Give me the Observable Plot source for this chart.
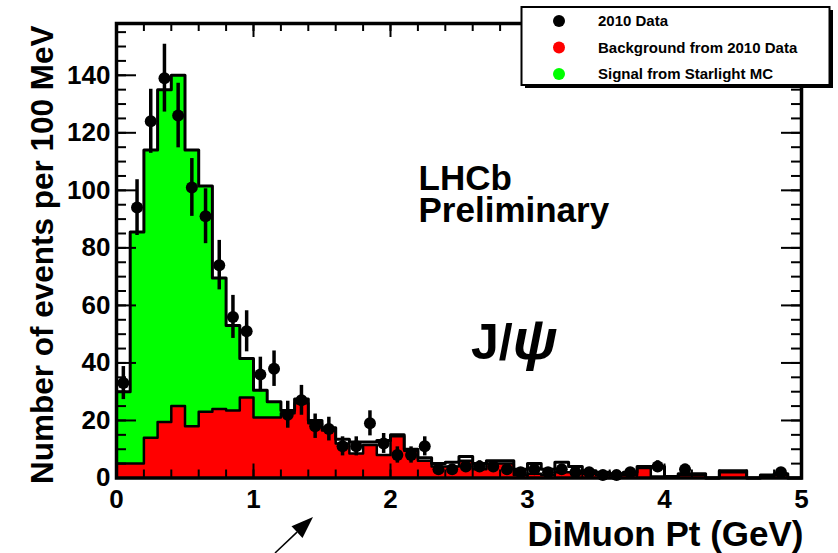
<!DOCTYPE html>
<html>
<head>
<meta charset="utf-8">
<script src="https://cdn.jsdelivr.net/npm/d3@7"></script>
<script src="https://cdn.jsdelivr.net/npm/@observablehq/plot@0.6"></script>
<style>
  body { margin: 0; background: #fff; }
  svg { display: block; }
</style>
</head>
<body>
<div id="chart"></div>
<script>
// Dimuon transverse momentum, 100 MeV bins from 0 to 5 GeV
const binLow = [0.0, 0.1, 0.2, 0.3, 0.4, 0.5, 0.6, 0.7, 0.8, 0.9,
                1.0, 1.1, 1.2, 1.3, 1.4, 1.5, 1.6, 1.7, 1.8, 1.9,
                2.0, 2.1, 2.2, 2.3, 2.4, 2.5, 2.6, 2.7, 2.8, 2.9,
                3.0, 3.1, 3.2, 3.3, 3.4, 3.5, 3.6, 3.7, 3.8, 3.9,
                4.0, 4.1, 4.2, 4.3, 4.4, 4.5, 4.6, 4.7, 4.8, 4.9];
const binWidth = 0.1;

// Background estimated from 2010 data (red)
const background = [5, 5, 14, 19.5, 25, 18, 23, 24, 23.5, 28,
                    21, 21, 22.5, 26, 19, 16.5, 12, 8.5, 11.5, 8,
                    14.5, 9.5, 6, 4, 4, 6, 3, 5, 5, 1,
                    1.5, 1, 2, 2, 1.5, 1, 1, 1, 3.5, 0.5,
                    0.5, 1, 1, 0, 2, 2, 0, 0.5, 1, 0];

// Starlight MC signal, stacked on the background (green)
const signal = [25, 80.5, 100, 115.5, 115, 96, 78.5, 45.5, 29.5, 13.5,
                9.5, 5.5, 1, 0, 0, 0, 0, 0, 0, 0,
                0, 0, 0, 0, 0, 0, 0, 0, 0, 0,
                0, 0, 0, 0, 0, 0, 0, 0, 0, 0,
                0, 0, 0, 0, 0, 0, 0, 0, 0, 0];

// Total prediction drawn as the black outline
const total = [30, 85.5, 114, 135, 140, 114, 101.5, 69.5, 53, 41.5,
               30.5, 26.5, 23.5, 27.5, 20, 17.5, 13.5, 12.5, 12.5, 13,
               15, 10, 7, 5, 5.5, 7.5, 5, 6, 6, 3,
               5, 3, 5.5, 4, 2.5, 2, 1.5, 2, 4, 4,
               0.5, 1.5, 1.5, 0, 2.5, 2.5, 0, 1, 1.5, 0];

// 2010 data, events per bin
const dataCounts = [33, 94, 124, 139, 126, 101, 91, 74, 56, 51,
                    36, 38, 22, 27, 18, 17, 11, 11, 19, 12,
                    8, 8, 11, 3, 3, 4, 4, 4, 3, 2,
                    3, 2, 3, 2, 2, 1, 1, 2, 0, 4,
                    0, 3, 0, 0, 0, 0, 0, 0, 2, 0];

const xTicks = [0, 1, 2, 3, 4, 5];
const yTicks = [0, 20, 40, 60, 80, 100, 120, 140];
const xMinor = d3.range(0.2, 5, 0.2);
const yMinor = d3.range(5, 158, 5);

const legendLabels = ["2010 Data", "Background from 2010 Data", "Signal from Starlight MC"];
const legendColors = ["#000000", "#ff0000", "#00ff00"];

const xEnd = 5;
const bins = binLow.map((x1, i) => ({
  x1, x2: x1 + binWidth,
  bkg: background[i],
  stack: background[i] + signal[i],
  total: total[i],
  n: dataCounts[i]
}));

// step outline points for a histogram column
const steps = key => [
  ...bins.map(b => ({x: b.x1, y: b[key]})),
  {x: xEnd, y: bins[bins.length - 1][key]}
];

const points = bins.filter(b => b.n > 0).map(b => ({
  x: (b.x1 + b.x2) / 2,
  n: b.n,
  lo: b.n - Math.sqrt(b.n),
  hi: b.n + Math.sqrt(b.n)
}));

const font = "'Liberation Sans', Arial, Helvetica, sans-serif";
const W = 838, H = 553;
const mL = 116, mR = 37, mT = 23, mB = 75.5;
const innerW = W - mL - mR, innerH = H - mT - mB;

const svg = Plot.plot({
  width: W,
  height: H,
  marginLeft: mL,
  marginRight: mR,
  marginTop: mT,
  marginBottom: mB,
  style: {fontFamily: font, background: "white", overflow: "visible", color: "black"},
  x: {domain: [0, 5], axis: null},
  y: {domain: [0, 158], axis: null},
  marks: [
    // stacked histograms
    Plot.areaY(steps("stack"), {x: "x", y: "y", curve: "step-after", fill: "#00ff00"}),
    Plot.areaY(steps("bkg"), {x: "x", y: "y", curve: "step-after", fill: "#ff0000"}),
    Plot.line(steps("bkg"), {x: "x", y: "y", curve: "step-after", stroke: "black", strokeWidth: 2.5}),
    Plot.line(steps("total"), {x: "x", y: "y", curve: "step-after", stroke: "black", strokeWidth: 3}),

    // inward ticks on all four sides
    Plot.tickX(xMinor, {x: d => d, insetTop: innerH - 8, stroke: "black", strokeWidth: 2}),
    Plot.tickX(xMinor, {x: d => d, insetBottom: innerH - 8, stroke: "black", strokeWidth: 2}),
    Plot.tickX(xTicks, {x: d => d, insetTop: innerH - 14, stroke: "black", strokeWidth: 2}),
    Plot.tickX(xTicks, {x: d => d, insetBottom: innerH - 14, stroke: "black", strokeWidth: 2}),
    Plot.tickY(yMinor, {y: d => d, insetRight: innerW - 10, stroke: "black", strokeWidth: 2}),
    Plot.tickY(yMinor, {y: d => d, insetLeft: innerW - 10, stroke: "black", strokeWidth: 2}),
    Plot.tickY(yTicks, {y: d => d, insetRight: innerW - 20, stroke: "black", strokeWidth: 2}),
    Plot.tickY(yTicks, {y: d => d, insetLeft: innerW - 20, stroke: "black", strokeWidth: 2}),
    Plot.frame({stroke: "black", strokeWidth: 3.5}),

    // data with Poisson error bars
    Plot.ruleX(points, {x: "x", y1: "lo", y2: "hi", stroke: "black", strokeWidth: 3.5}),
    Plot.dot(points, {x: "x", y: "n", r: 6, fill: "black"}),

    // tick labels
    Plot.text(xTicks, {x: d => d, text: d => String(d), frameAnchor: "bottom", lineAnchor: "top",
      dy: 12, fontSize: 26, fontWeight: "bold", fill: "black"}),
    Plot.text(yTicks, {y: d => d, text: d => String(d), frameAnchor: "left", textAnchor: "end",
      dx: -6, fontSize: 26, fontWeight: "bold", fill: "black"}),

    // axis titles
    Plot.text(["DiMuon Pt (GeV)"], {frameAnchor: "bottom-right", textAnchor: "end", lineAnchor: "middle",
      dx: 2, dy: 57, fontSize: 35, fontWeight: "bold", fill: "black"}),
    Plot.text(["Number of events per 100 MeV"], {frameAnchor: "left", rotate: -90, textAnchor: "middle",
      lineAnchor: "middle", dx: -74, dy: 4, fontSize: 31.5, fontWeight: "bold", fill: "black"}),

    // experiment label
    Plot.text(["LHCb"], {frameAnchor: "top-left", textAnchor: "start", lineAnchor: "bottom",
      dx: 302, dy: 166, fontSize: 35, fontWeight: "bold", fill: "black"}),
    Plot.text(["Preliminary"], {frameAnchor: "top-left", textAnchor: "start", lineAnchor: "bottom",
      dx: 302, dy: 198, fontSize: 35, fontWeight: "bold", fill: "black"})
  ]
});

const root = d3.select(svg);

// J/psi label
const jpsi = root.append("text")
  .attr("x", 471).attr("y", 359).attr("text-anchor", "start")
  .attr("font-family", font).attr("font-weight", "bold")
  .attr("fill", "black");
jpsi.append("tspan").attr("font-size", 50).text("J/");
jpsi.append("tspan").attr("font-size", 58).attr("font-style", "italic").text("ψ");

// legend box with drop shadow
const lg = root.append("g").attr("font-family", font).attr("text-anchor", "start");
lg.append("rect").attr("x", 525).attr("y", 10).attr("width", 308).attr("height", 78).attr("fill", "black");
lg.append("rect").attr("x", 521.5).attr("y", 7).attr("width", 308).attr("height", 78)
  .attr("fill", "white").attr("stroke", "black").attr("stroke-width", 2);
legendLabels.forEach((label, i) => {
  const cy = 21 + i * 26.5;
  lg.append("circle").attr("cx", 559).attr("cy", cy).attr("r", 6).attr("fill", legendColors[i]);
  lg.append("text").attr("x", 598).attr("y", cy).attr("dy", "0.35em")
    .attr("font-size", 15).attr("font-weight", "bold").attr("fill", "black").text(label);
});

// pointer arrow below the axis
const tail = [275, 553], tip = [313, 517];
const dx = tip[0] - tail[0], dy = tip[1] - tail[1];
const len = Math.hypot(dx, dy), ux = dx / len, uy = dy / len;
const headLen = 22, headHalf = 8;
const base = [tip[0] - headLen * ux, tip[1] - headLen * uy];
root.append("line")
  .attr("x1", tail[0]).attr("y1", tail[1]).attr("x2", base[0]).attr("y2", base[1])
  .attr("stroke", "black").attr("stroke-width", 1.5);
root.append("path")
  .attr("d", `M${tip[0]},${tip[1]}L${base[0] - headHalf * uy},${base[1] + headHalf * ux}L${base[0] + headHalf * uy},${base[1] - headHalf * ux}Z`)
  .attr("fill", "black");

document.getElementById("chart").appendChild(svg);
</script>
</body>
</html>
